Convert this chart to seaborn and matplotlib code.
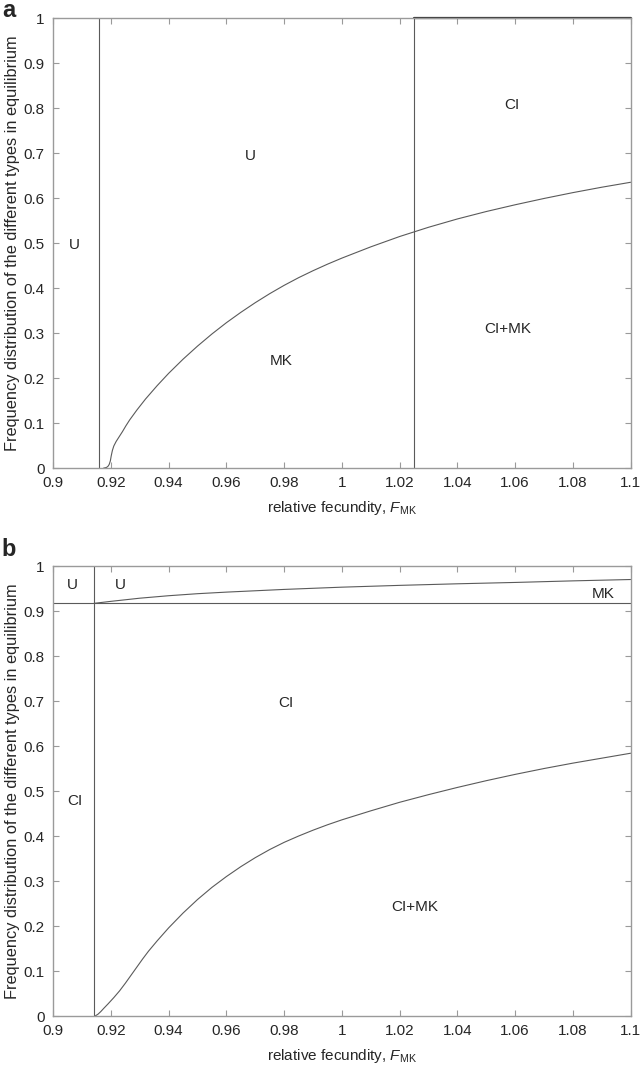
import numpy as np
import pandas as pd
import matplotlib
matplotlib.use('Agg')
import matplotlib.pyplot as plt
import seaborn as sns

# ---- data ----
# panel a: boundary curve (MK below / U above)
a_x = [0.9175, 0.9180, 0.9185, 0.9190, 0.9194, 0.9198, 0.9201, 0.9205, 0.9210, 0.9218,
       0.9228, 0.9240, 0.9252, 0.9265, 0.9290, 0.9320, 0.9360, 0.9400, 0.9450, 0.9500,
       0.9550, 0.9600, 0.9650, 0.9700, 0.9750, 0.9800, 0.9850, 0.9900, 0.9950, 1.0000,
       1.0100, 1.0200, 1.0300, 1.0400, 1.0500, 1.0600, 1.0700, 1.0800, 1.0900, 1.1000]
a_y = [0.000, 0.0005, 0.0015, 0.004, 0.008, 0.016, 0.027, 0.039, 0.049, 0.059,
       0.069, 0.081, 0.094, 0.107, 0.129, 0.1535, 0.183, 0.2105, 0.242, 0.271,
       0.298, 0.323, 0.346, 0.3675, 0.3875, 0.406, 0.423, 0.4385, 0.453, 0.4665,
       0.4915, 0.5145, 0.535, 0.5535, 0.570, 0.585, 0.599, 0.612, 0.624, 0.635]
a_vlines = [0.916, 1.025]
a_top_x = [1.025, 1.1]
a_top_y = [1.0, 1.0]
a_labels = ['U', 'U', 'CI', 'CI+MK', 'MK']
a_lx = [0.9075, 0.9684, 1.059, 1.0574, 0.979]
a_ly = [0.496, 0.693, 0.807, 0.309, 0.237]

# panel b: lower boundary curve (CI+MK below / CI above)
b_x = [0.9145, 0.9155, 0.9165, 0.9175, 0.9190, 0.9210, 0.9230, 0.9250, 0.9270, 0.9290,
       0.9310, 0.9330, 0.9360, 0.9400, 0.9450, 0.9500, 0.9550, 0.9600, 0.9650, 0.9700,
       0.9750, 0.9800, 0.9850, 0.9900, 0.9950, 1.0000, 1.0100, 1.0200, 1.0300, 1.0400,
       1.0500, 1.0600, 1.0700, 1.0800, 1.0900, 1.1000]
b_y = [0.000, 0.004, 0.010, 0.017, 0.027, 0.041, 0.056, 0.073, 0.091, 0.109,
       0.127, 0.144, 0.167, 0.196, 0.229, 0.259, 0.286, 0.310, 0.332, 0.352,
       0.370, 0.386, 0.400, 0.413, 0.425, 0.436, 0.456, 0.475, 0.492, 0.508,
       0.523, 0.537, 0.550, 0.562, 0.573, 0.584]
# panel b: upper boundary curve (MK above / U below)
b_up_x = [0.9141, 0.92, 0.93, 0.94, 0.95, 0.96, 0.97, 0.98, 1.0, 1.02, 1.04, 1.06, 1.08, 1.1]
b_up_y = [0.917, 0.9215, 0.9285, 0.934, 0.9385, 0.942, 0.945, 0.948, 0.953, 0.957,
          0.9605, 0.9635, 0.967, 0.970]
b_vline = 0.9141
b_hline = 0.917
b_labels = ['U', 'U', 'MK', 'CI', 'CI', 'CI+MK']
b_lx = [0.9068, 0.9233, 1.0905, 0.9807, 0.9075, 1.0252]
b_ly = [0.958, 0.958, 0.937, 0.696, 0.478, 0.242]

xticks = [0.9, 0.92, 0.94, 0.96, 0.98, 1.0, 1.02, 1.04, 1.06, 1.08, 1.1]
xticklabels = ['0.9', '0.92', '0.94', '0.96', '0.98', '1', '1.02', '1.04', '1.06', '1.08', '1.1']
yticks = [0, 0.1, 0.2, 0.3, 0.4, 0.5, 0.6, 0.7, 0.8, 0.9, 1.0]
yticklabels = ['0', '0.1', '0.2', '0.3', '0.4', '0.5', '0.6', '0.7', '0.8', '0.9', '1']

# ---- style ----
sns.set_style('ticks')
plt.rcParams['font.family'] = ['Liberation Sans', 'DejaVu Sans']
plt.rcParams['mathtext.fontset'] = 'custom'
plt.rcParams['mathtext.rm'] = 'Liberation Sans'
plt.rcParams['mathtext.it'] = 'Liberation Sans:italic'

line_col = '#5a5a5a'
spine_col = '#9a9a9a'
lw = 0.8

fig = plt.figure(figsize=(6.4, 10.72), dpi=100)
ax_a = fig.add_axes([0.0831, 0.5634, 0.9023, 0.4198])
ax_b = fig.add_axes([0.0831, 0.0522, 0.9023, 0.4198])


def style_axis(ax):
    ax.set_xlim(0.9, 1.1)
    ax.set_ylim(0, 1)
    ax.set_xticks(xticks)
    ax.set_xticklabels(xticklabels)
    ax.set_yticks(yticks)
    ax.set_yticklabels(yticklabels)
    ax.tick_params(direction='in', length=4, width=0.8, color=spine_col,
                   top=True, right=True, labelsize=11, pad=6)
    for s in ax.spines.values():
        s.set_color(spine_col)
        s.set_linewidth(1.0)
    ax.set_xlabel(r'relative fecundity, $\mathit{F}_{\mathrm{MK}}$', fontsize=11, labelpad=6)
    ax.set_ylabel('Frequency distribution of the different types in equilibrium', fontsize=11.8,
                  labelpad=3)


# ---- panel a ----
sns.lineplot(x=a_x, y=a_y, ax=ax_a, color=line_col, linewidth=lw, sort=False)
for v in a_vlines:
    ax_a.axvline(v, color=line_col, linewidth=lw)
sns.lineplot(x=a_top_x, y=a_top_y, ax=ax_a, color='#333333', linewidth=1.6, sort=False, clip_on=False)
for t, x, y in zip(a_labels, a_lx, a_ly):
    ax_a.text(x, y, t, ha='center', va='center', fontsize=11)
style_axis(ax_a)

# ---- panel b ----
sns.lineplot(x=b_x, y=b_y, ax=ax_b, color=line_col, linewidth=lw, sort=False)
sns.lineplot(x=b_up_x, y=b_up_y, ax=ax_b, color=line_col, linewidth=lw, sort=False)
ax_b.axvline(b_vline, color=line_col, linewidth=lw)
ax_b.axhline(b_hline, color=line_col, linewidth=lw)
for t, x, y in zip(b_labels, b_lx, b_ly):
    ax_b.text(x, y, t, ha='center', va='center', fontsize=11)
style_axis(ax_b)

fig.text(0.003, 0.990, 'a', fontsize=17, fontweight='bold', va='center', ha='left')
fig.text(0.003, 0.4875, 'b', fontsize=17, fontweight='bold', va='center', ha='left')

fig.savefig('out.png', dpi=100)
